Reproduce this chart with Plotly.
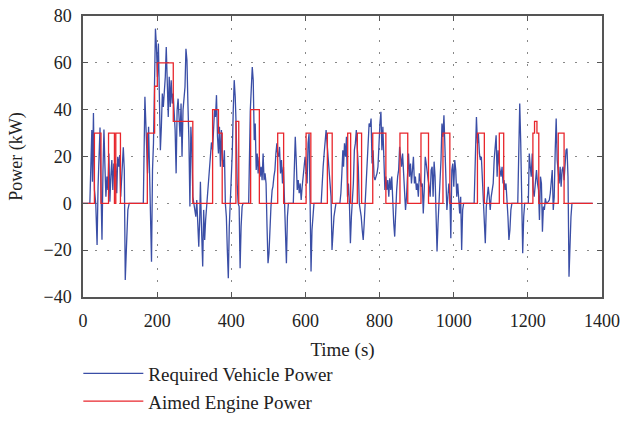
import plotly.graph_objects as go

# Required vehicle power (kW) vs time (s)
time_req = [0, 18.5, 23.8, 25.5, 28.2, 30.9, 34.4, 38, 40.6, 43.3, 45.9, 48.6, 51.2, 53.9, 56.5, 59.2,
            61.8, 64.5, 67.1, 69.8, 72.5, 75.1, 77.8, 80.4, 83.1, 85.7, 88.4, 91, 93.7, 96.4, 99, 101.7,
            105.2, 108.7, 111.4, 114, 117.6, 121, 124.7, 162.7, 167, 170.7,
            174.2, 176.9, 179.5, 182.2, 184.8, 187.5, 190.1, 192.8, 195.4, 198.1, 200.8, 203.4, 206.1,
            208.7, 211.4, 214, 216.7, 219.3, 222, 224.6, 227.3, 230, 232.6, 235.3, 237.9, 240.6, 243.2,
            245.9, 248.5, 251.2, 253.9, 256.5, 259.2, 261.8, 264.5, 267.1, 269.8, 272.4, 275.1, 277.7,
            280.4, 283, 285.7, 288.4, 291, 293.7, 296.3, 299, 301.6, 304.3, 306.9, 309.6, 312.3, 314.9,
            316.7, 319.3, 322.9, 325.5, 328.2, 330.8, 333.5,
            336.5, 340, 343, 346.5, 349.5, 352.2, 354.8, 357.5, 360.1, 362.8, 365.4, 368.1, 370.7, 373.4,
            376, 378.7, 381.4, 384, 386.7, 389.3, 392, 394.6, 397.3, 399.9, 402.6, 405.3, 407.9, 410.6,
            413.2, 415.9, 418.5, 421.2, 423.8, 426.5, 429.2, 431.8, 446.9, 451.3, 453.9, 456.6, 459.2,
            461.9, 464.6, 467.2, 469.9, 472.5, 475.2, 477.8, 480.5, 483.1, 485.8, 488.4, 491.1, 493.8,
            496.4, 499.1, 501.7, 504.4, 507, 510.2, 512.3, 515, 517.7, 520.3, 523,
            524.8, 527.5, 530.1, 532.8, 535.4, 538.1, 540.7, 543.4, 546, 548.7, 551.4, 554, 567.3, 569.9,
            572.6, 575.2, 577.9, 580.6, 583.2, 585.9, 588.5, 591.2, 593.8, 596.5, 599.1, 601.8, 604.5,
            607.1, 609.8, 612.4, 615.1, 617.7, 620.4, 623, 642.5, 645.2, 647.8, 650.5, 653.1, 655.8,
            658.4, 661.1, 663.7, 666.4, 669.1, 671.7, 674.4, 677, 679.7, 682.3, 692.9, 695.6, 698.3,
            700.9, 702.8, 705.4, 708.1, 710.7, 713.4, 716, 718.7, 721.3, 724, 726.7, 729.3, 732, 734.6,
            737.3, 739.9, 742.6, 745.2, 747.9, 750.5, 753.2, 755.9, 758.5, 761.2, 763.8, 766.5, 769.1,
            771.8, 774.4, 777.1, 779.7, 782.4, 785.1, 787.7, 790.4, 793, 795.7, 798.3, 801, 803.6, 806.3,
            808.9, 811.6, 814.3, 816.9, 819.6, 822.2, 824.9, 827.5, 830.2, 832.9, 835.5, 838.2, 840.8,
            843.5, 846.1, 848.8, 851.4, 854.1, 856.8, 859.4, 862.1, 864.7, 867.4, 870, 872.7,
            875.4, 878.1, 880.7, 883.4, 886, 888.7, 891.3, 894, 896.6, 899.3, 901.9, 904.6, 907.3, 909.9,
            912.6, 915.2, 917.9, 920.5, 923.2, 925.8, 928.5, 931.2, 933.8, 936.5, 939.1, 941.8, 944.4,
            947.1, 949.7, 952.4, 955, 957.7, 960.4, 963, 965.7, 968.3, 971, 973.6, 976.3, 978.9, 981.6,
            984.3, 986.9, 989.6, 992.2, 994.9, 997.5, 1000.2, 1002.8, 1005.5, 1008.2, 1010.8, 1013.5,
            1016.1, 1018.8, 1021.4, 1024.1, 1026.7, 1055.1, 1057.8, 1061.3, 1064, 1066.6, 1069.3, 1071.9,
            1074.6, 1077.3, 1079.9, 1082.6, 1085.2, 1087.9, 1090.5, 1093.2, 1095.8, 1098.5, 1101.1,
            1103.8, 1106.5, 1109.1, 1111.8, 1114.4, 1117.1, 1119.7, 1122.4, 1125, 1127.7, 1130.4, 1133,
            1135.7, 1138.3, 1141, 1143.6, 1146.3, 1148.9, 1151.6, 1154.2, 1156.9, 1172.8, 1175.5, 1178.1,
            1180.8, 1183.5, 1186.1, 1188.8, 1191.4, 1201.2, 1203.8, 1206.5, 1209.1, 1211.8, 1214.4,
            1217.1, 1220.6, 1223.3, 1226, 1228.7, 1231.3, 1234, 1236.6, 1239.3, 1241.9, 1244.6, 1247.2,
            1249.9, 1255.2, 1257.9, 1260.5, 1263.2, 1265.8, 1268.5, 1271.1, 1273.8, 1276.4, 1279.1,
            1281.8, 1284.4, 1287.1, 1289.7, 1292.4, 1295, 1297.7, 1300.3, 1303, 1305.6, 1308.3, 1311,
            1313.6, 1316.3, 1318.9, 1375]
power_req = [0, 0, 31.3, 9.2, 38.6, 5.7, 0, -17.8, 7.1, 25.6, 32.4, 5.7, -15.6, 14.2, 31.5, 15.6,
             2.8, 11.4, 5.7, 21.3, 0.7, 11.4, 18.5, 5.7, 17, 11.4, 17, 4.3, 19.9, 15.6, 20.6, 2.8,
             12.8, 23.9, 14.2, -32.7, -17, -2.8, 0, 0, 45.5, 22.7,
             12.8, 32.7, 11.4, -19.9, -24.9, 14.2, 25.6, 49.7, 74.6, 66.8, 54, 68.2, 39.8,
             22.7, 32.7, 46.9, 41.2, 46.9, 54, 66.8, 46.9, 36.9, 54, 41.2, 52.6, 42.6, 46.9,
             39.8, 31.3, 12.8, 39.8, 44.7, 34.1, 28.4, 42.6, 19.9, 39.8, 45.5, 49.7, 66,
             61.1, 42.6, 27, -1.4, 32.7, 22.7, 2.8, 0, -3.6, -5.7, 1.4, -9.9, -18.5, -5.7,
             9.2, -8.5, -27, -2.8, -15.6, -7.1, -1.4,
             4, 12, 20, 26, 22.7, 35.5, 39.8, 36.9, 46.2, 28.4, 21.3, 32.7, 15.6, 31.3,
             18.5, 15.6, 22.7, 0, -5.7, -19.9, -32, -9.9, 0, 8.5, 21.3, 39.8, 52.6, 45.5,
             32.7, 8.5, 0, -1.4, -27.7, -9.9, -1.4, 0, 0, 39.8, 51.1, 58.2, 52.6,
             27, 34.1, 14.2, 21.3, 12.8, 19.9, 11.4, 15.6, 9.9, 21.3, 9.9, 12.8, 8.5,
             -9.9, -25.6, -21.3, -9.9, -1.4, 5.7, 7.1, 11.4, 14.2, 21.3, 25.6,
             21.3, 19.9, 24.1, 12.8, 18.5, 8.5, 15.6, 2.8, -11.4, -25.6, -5.7, 0, 0, 12.8,
             28.4, 18.5, 5.7, 9.9, 4.3, 8.5, 1.4, 7.1, 11.4, 17, 19.9, 14.2, 8.5,
             25.6, 29.8, 2.8, -29.1, -11.4, -2.8, 0, 0, 9.9, 15.6, 21.3, 25.6, 31.3,
             25.6, 19.9, 11.4, 8.5, 2.8, -19.9, -9.9, -5.7, -2.8, 0, 0, 4.3, 12.8,
             22.7, 15.6, 25.6, 19.9, 28.4, 2.8, 8.5, 0, -17, -5.7, 0, 8.5, 22.7, 25.6,
             31.3, 22.7, 15.6, 0, -2.8, -5.7, -11.4, -15.6, -8.5, 0, 8.5, 18.5, 25.6,
             34.1, 32.7, 36.2, 17, 22.7, 11.4, 9.9, 11.4, 12.8, 15.6, 28.4, 34.1, 39.1, 22.7,
             32.7, 14.2, 5.7, 11.4, 5.7, 9.9, 2.8, 10.7, 5.7, 11.4, -1.4, -8.5, -14.2,
             -1.4, 5.7, 11.4, 14.2, 24.1, 19.9, 15.6, 21.3, 11.4, 5.7, -2.8, 2.8,
             14.2, 21.3, 11.4, 17, 8.5, 12.8, 19.9, 8.5, 11.4, 5.7, 8.5, 2.8, 12.8, 9.9,
             7.1, 8.5, -4.3, 5.7, 19.9, 17, 11.4, 9.9, 7.1, 2.8, 14.2, 15.6, 2.8,
             17.8, 11.4, -14.2, -20.6, -8.5, 0, 8.5, 18.5, 34.1, 28.4, 37.6, 22.7, 17, -2.8,
             2.8, 8.5, 2.8, -14.9, 14.2, 17, 7.1, 18.5, 14.2, 2.8, 8.5, 0,
             -4.3, 2.8, -19.9, -2.8, 0, 0, 22.7, 36.9, 25.6, 29.8, 21.3, 18.5,
             19.9, 8.5, -2.8, -14.2, -17, -1.4, 2.8, 7.1, 2.8, -2.8, 2.8,
             5.7, 8.5, 18.5, 25.6, 29.1, 11.4, 22.7, 17, 14.2, 11.4, 15.6, 8.5,
             9.9, 5.7, 8.5, 2.8, -5.7, -15.6, -11.4, -2.8, 0, 0, 18.5, 42.6,
             25.6, -5.7, -21.3, -5.7, 0, 0, 21.3, 15.6, 11.4, 21.3, 5.7,
             2.8, 8.5, 14.2, 8.5, 5.7, -7.1, 11.4, 8.5, -12.1, -1.4, -2.8, 2.1,
             0, 0.7, 1.4, 4.3, 8.5, 14.2, -2.8, 2.8, 22.7, 36.2, 18.5,
             11.4, 8.5, 15.6, 7.1, 14.2, 15.6, 9.9, 17, 22.7, 23.4, 11.4, -31.3,
             -17, -5.7, 0, 0]

# Aimed engine power (kW): step changes (time, level from that time on)
time_eng = [0, 30.8, 48.5, 68.9, 84.8, 88.5, 101, 173.5, 193.2, 200.5, 243.5, 296.2, 349.6, 365.4,
            375.5, 412.5, 420.2, 452.2, 475.7, 525.2, 541.2, 601.8, 614.6, 659.2, 672.2, 714, 722,
            740, 751.5, 781.6, 817, 855, 876, 911.7, 932, 971, 989.6, 1064, 1082.6, 1123, 1134.8,
            1213.6, 1218, 1224.5, 1229.5, 1282, 1297.7, 1375]
power_eng = [0, 30, 0, 30, 0, 30, 0, 30, 50, 60, 35, 0, 40, 30,
             0, 35, 0, 40, 0, 30, 0, 30, 0, 30, 0, 30, 0,
             30, 0, 30, 0, 30, 0, 30, 0, 30, 0, 30, 0, 30, 0,
             30, 35, 30, 0, 30, 0, 0]

x_ticks = [0, 200, 400, 600, 800, 1000, 1200, 1400]
y_ticks = [-40, -20, 0, 20, 40, 60, 80]

FONT = "Liberation Serif"
AX = "#555555"
TXT = "#222222"

fig = go.Figure()
fig.add_trace(go.Scatter(x=time_req, y=power_req, mode="lines", name="Required Vehicle Power",
                         line=dict(color="#3a4ea6", width=1.3)))
fig.add_trace(go.Scatter(x=time_eng, y=power_eng, mode="lines", name="Aimed Engine Power",
                         line=dict(color="#e8262c", width=1.3, shape="hv")))

fig.update_layout(
    width=633, height=432,
    margin=dict(l=83, r=31, t=16, b=135, autoexpand=False),
    plot_bgcolor="white", paper_bgcolor="white",
    font=dict(family=FONT, size=18, color=TXT),
    legend=dict(x=-0.009, y=-0.205, xanchor="left", yanchor="top", bgcolor="rgba(0,0,0,0)",
                itemwidth=60, font=dict(family=FONT, size=19, color=TXT), tracegroupgap=0),
)
fig.update_xaxes(range=[0, 1400], tickvals=x_ticks, ticks="inside", ticklen=5, tickcolor=AX,
                 tickwidth=1.2, showline=True, linecolor=AX, linewidth=1.5, mirror="ticks",
                 showgrid=True, gridcolor="#888888", gridwidth=1, griddash="2px,10px",
                 zeroline=False, ticklabelstandoff=7, tickfont=dict(size=18),
                 title=dict(text="Time (s)", standoff=12, font=dict(size=19)))
fig.update_yaxes(range=[-40, 80], tickvals=y_ticks, ticks="inside", ticklen=5, tickcolor=AX,
                 tickwidth=1.2, showline=True, linecolor=AX, linewidth=1.5, mirror="ticks",
                 showgrid=True, gridcolor="#888888", gridwidth=1, griddash="2px,10px",
                 zeroline=False, ticklabelstandoff=6, tickfont=dict(size=18),
                 title=dict(text="Power (kW)", standoff=16, font=dict(size=18)))

fig.write_html("out.html")
